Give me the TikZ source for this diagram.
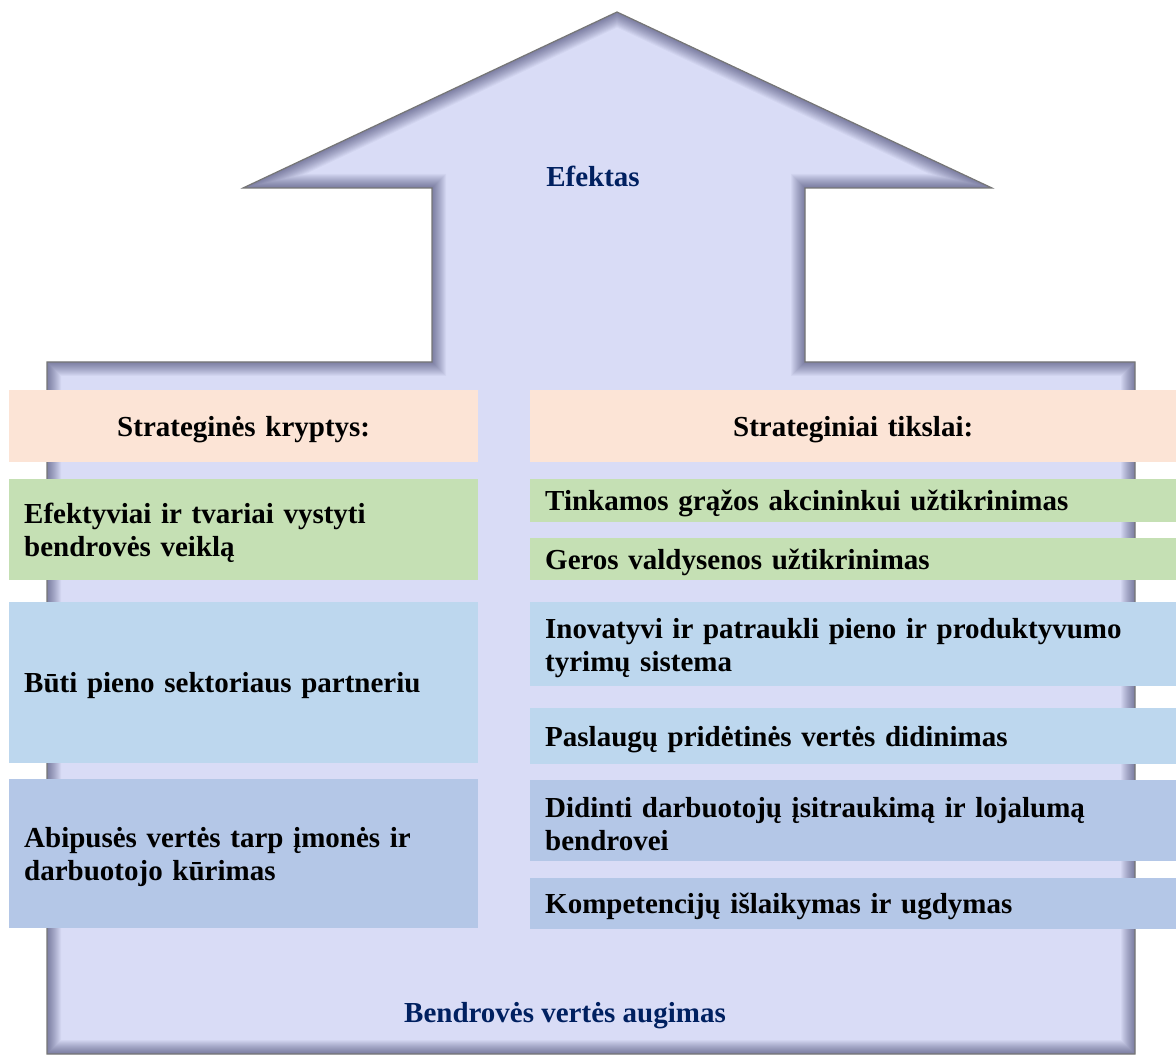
\documentclass[tikz,border=0pt]{standalone}
\usepackage{fontspec}
\setmainfont{Liberation Serif}
\usepackage{tikz}
\usetikzlibrary{positioning}
\definecolor{ArrowFill}{HTML}{D9DCF6}
\definecolor{ArrowEdge}{HTML}{767676}
\definecolor{HeadPeach}{HTML}{FCE4D6}
\definecolor{GoalGreen}{HTML}{C5E0B4}
\definecolor{GoalBlue}{HTML}{BDD7EE}
\definecolor{GoalSteel}{HTML}{B4C7E7}
\definecolor{TitleNavy}{HTML}{002060}
\tikzset{
  basebox/.style={rectangle, anchor=north west, inner xsep=15pt, inner ysep=0pt, align=left, font=\fontsize{29}{33}\selectfont\bfseries, execute at begin node={\rule{0pt}{27pt}}},
  headbox/.style={basebox, fill=HeadPeach, align=center},
  leftbox/.style={basebox, text width=439pt},
  rightbox/.style={basebox, text width=616pt},
  titletext/.style={font=\fontsize{29}{33}\selectfont\bfseries, text=TitleNavy, anchor=base, inner sep=0pt}
}

\begin{document}
\begin{tikzpicture}[x=1pt, y=-1pt]
  \useasboundingbox (0,0) rectangle (1176,1056);

  % big arrow with inner shadow
  \path[save path=\arrowpath] (617,12) -- (992,188) -- (805,188) -- (805,362) -- (1135,362) -- (1135,1054)
    -- (47,1054) -- (47,362) -- (432,362) -- (432,188) -- (243,188) -- cycle;
  \fill[ArrowFill, use path=\arrowpath];
  \begin{scope}
    \clip[use path=\arrowpath];
    \foreach \w in {2,4,...,28}
      \draw[line width=\w pt, draw=black!80!blue, opacity=0.035, line join=miter, use path=\arrowpath];
  \end{scope}
  \draw[ArrowEdge, line width=1.2pt, use path=\arrowpath];

  \node[titletext] (effect) at (593,187) {Efektas};
  \node[titletext] (growth) at (565,1022) {Bendrovės vertės augimas};

  % left column: directions
  \node[headbox, text width=439pt, minimum height=72pt] (hdl) at (9,390) {Strateginės kryptys:};
  \node[leftbox, fill=GoalGreen, minimum height=101pt, below=16pt of hdl] (dirA) {Efektyviai ir tvariai vystyti\\bendrovės veiklą};
  \node[leftbox, fill=GoalBlue, minimum height=161pt, below=22pt of dirA] (dirB) {Būti pieno sektoriaus partneriu};
  \node[leftbox, fill=GoalSteel, minimum height=149pt, below=16pt of dirB] (dirC) {Abipusės vertės tarp įmonės ir\\darbuotojo kūrimas};

  % right column: goals
  \node[headbox, text width=616pt, minimum height=72pt] (hdr) at (530,390) {Strateginiai tikslai:};
  \node[rightbox, fill=GoalGreen, minimum height=43pt, below=16pt of hdr] (goalA1) {Tinkamos grąžos akcininkui užtikrinimas};
  \node[rightbox, fill=GoalGreen, minimum height=42pt, below=16pt of goalA1] (goalA2) {Geros valdysenos užtikrinimas};
  \node[rightbox, fill=GoalBlue, minimum height=84pt, below=22pt of goalA2] (goalB1) {Inovatyvi ir patraukli pieno ir produktyvumo\\tyrimų sistema};
  \node[rightbox, fill=GoalBlue, minimum height=56pt, below=21pt of goalB1] (goalB2) {Paslaugų pridėtinės vertės didinimas};
  \node[rightbox, fill=GoalSteel, minimum height=81pt, below=16pt of goalB2] (goalC1) {Didinti darbuotojų įsitraukimą ir lojalumą\\bendrovei};
  \node[rightbox, fill=GoalSteel, minimum height=51pt, below=16pt of goalC1] (goalC2) {Kompetencijų išlaikymas ir ugdymas};
\end{tikzpicture}
\end{document}
